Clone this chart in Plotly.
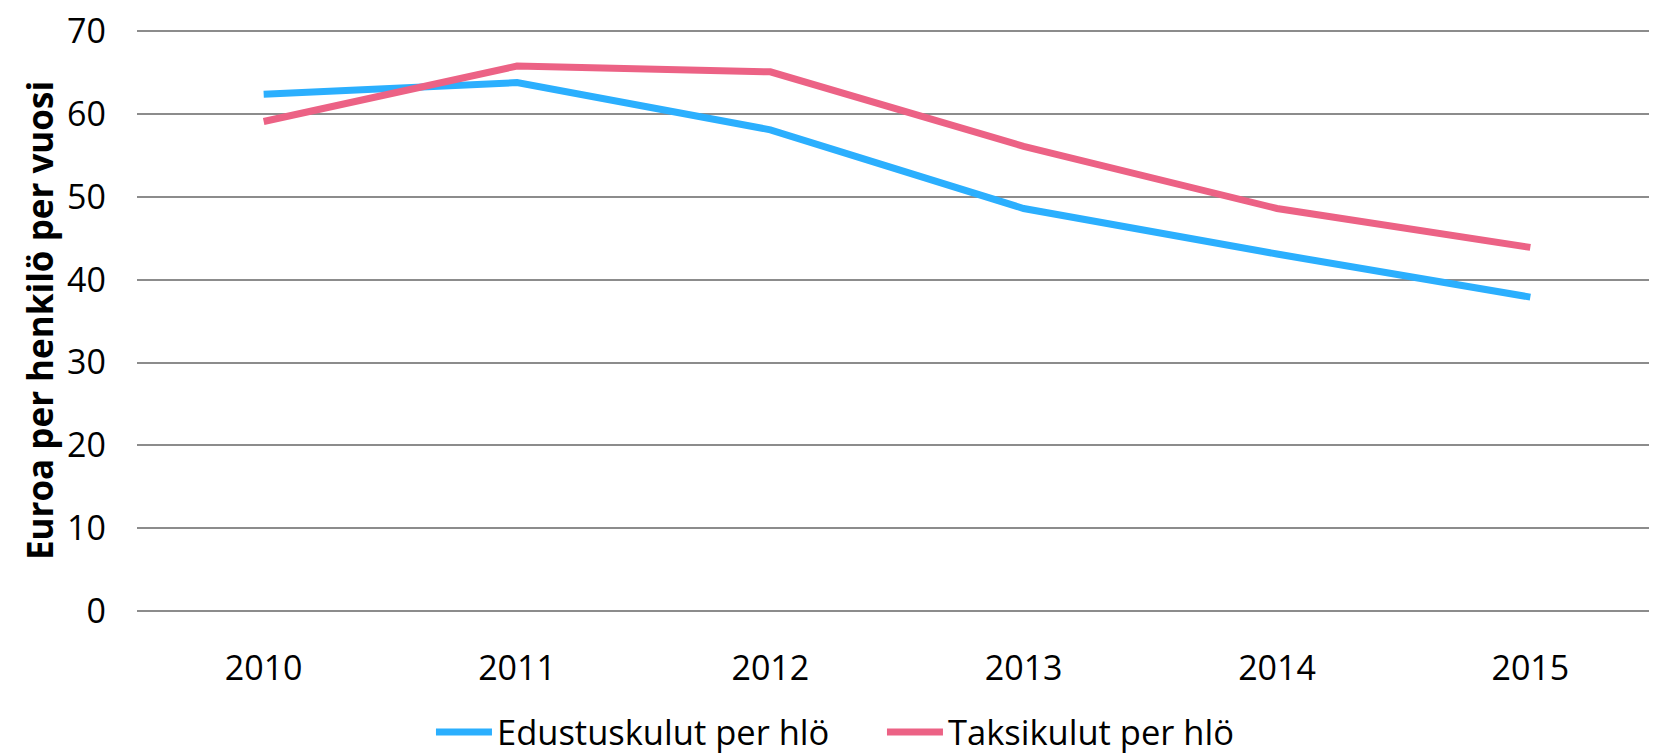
import plotly.graph_objects as go

years = ["2010", "2011", "2012", "2013", "2014", "2015"]
edustus = [62.4, 63.8, 58.1, 48.6, 43.1, 37.9]
taksi = [59.1, 65.8, 65.1, 56.1, 48.6, 43.9]
y_ticks = [0, 10, 20, 30, 40, 50, 60, 70]

FONT = "Open Sans"
GRID = "#8C8C8C"

fig = go.Figure()
fig.add_trace(go.Scatter(x=years, y=edustus, mode="lines", name="Edustuskulut per hlö",
                         line=dict(color="#2BAFFE", width=7)))
fig.add_trace(go.Scatter(x=years, y=taksi, mode="lines", name="Taksikulut per hlö",
                         line=dict(color="#EC6285", width=7)))

# page body adds an 8px offset; figure sized to compensate
fig.update_layout(
    width=1649, height=748,
    paper_bgcolor="white", plot_bgcolor="white",
    margin=dict(l=129, r=0, t=22, b=145),
    font=dict(family=FONT, color="#000000", size=34),
    showlegend=True,
    legend=dict(orientation="h", xref="container", x=0.2565, xanchor="left",
                yref="container", y=0.032, yanchor="middle",
                font=dict(size=34.5), itemwidth=56, entrywidth=380, tracegroupgap=0,
                bgcolor="rgba(0,0,0,0)"),
    xaxis=dict(type="category", range=[-0.5, 5.5], showgrid=False, zeroline=False,
               showline=False, ticks="", ticklabelstandoff=34,
               tickfont=dict(size=34)),
    yaxis=dict(range=[0, 70.15], tickvals=y_ticks, showgrid=True, gridcolor=GRID,
               gridwidth=2, zeroline=True, zerolinecolor=GRID, zerolinewidth=2,
               showline=False, ticks="", ticklabelstandoff=30,
               ticklabeloverflow="allow",
               tickfont=dict(size=34),
               title=dict(text="<b>Euroa per henkilö per vuosi</b>", font=dict(size=35),
                          standoff=2)),
)

fig.write_html("out.html")
